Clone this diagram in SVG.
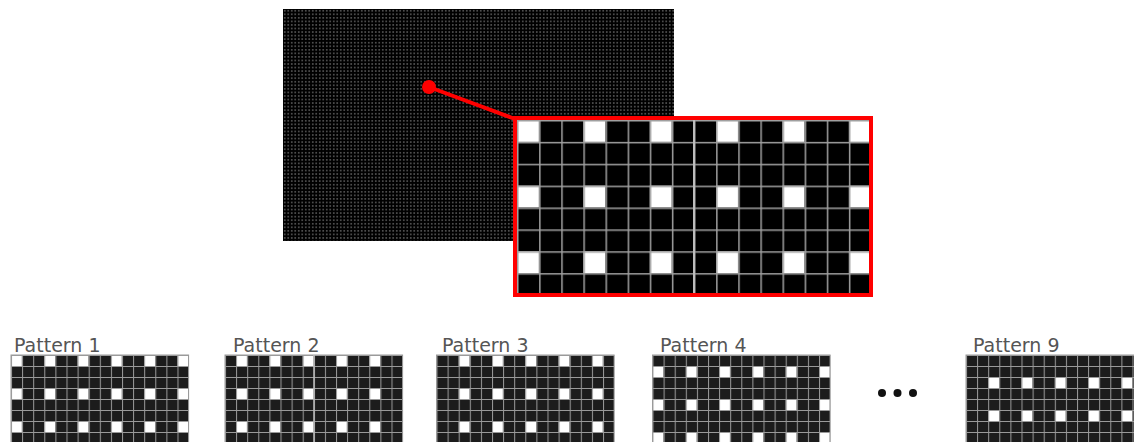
<svg xmlns="http://www.w3.org/2000/svg" width="1134" height="442" viewBox="0 0 1134 442">
<style>
.lbl{font-family:"DejaVu Sans","Liberation Sans",sans-serif;font-size:19px;fill:#555}
.cellbg{fill:#1c1c1c}
.red{stroke:#ff0000;fill:none}
</style>
<defs>
<pattern id="dots" patternUnits="userSpaceOnUse" x="283" y="9" width="3.5" height="3.55"><rect x="1.1" y="1.1" width="1.3" height="1.3" fill="#8a8a8a"/></pattern>
<pattern id="mw" patternUnits="userSpaceOnUse" x="517" y="120" width="66.375" height="65.625"><rect width="22.125" height="21.875" fill="#fff"/></pattern>
<pattern id="mg" patternUnits="userSpaceOnUse" x="517" y="120" width="22.125" height="21.875"><path d="M0.75 0V21.875M0 0.75H22.125" stroke="#a0a0a0" stroke-width="1.5" fill="none"/></pattern>
<pattern id="w1" patternUnits="userSpaceOnUse" x="11" y="355" width="33.3" height="33"><rect width="11.1" height="11" fill="#fff"/></pattern>
<pattern id="g1" patternUnits="userSpaceOnUse" x="11" y="355" width="11.1" height="11"><path d="M0.5 0V11M0 0.5H11.1" stroke="#9a9a9a" stroke-width="1" fill="none"/></pattern>
<pattern id="w2" patternUnits="userSpaceOnUse" x="236.1" y="355" width="33.3" height="33"><rect width="11.1" height="11" fill="#fff"/></pattern>
<pattern id="g2" patternUnits="userSpaceOnUse" x="225" y="355" width="11.1" height="11"><path d="M0.5 0V11M0 0.5H11.1" stroke="#9a9a9a" stroke-width="1" fill="none"/></pattern>
<pattern id="w3" patternUnits="userSpaceOnUse" x="458.7" y="355" width="33.3" height="33"><rect width="11.1" height="11" fill="#fff"/></pattern>
<pattern id="g3" patternUnits="userSpaceOnUse" x="436.5" y="355" width="11.1" height="11"><path d="M0.5 0V11M0 0.5H11.1" stroke="#9a9a9a" stroke-width="1" fill="none"/></pattern>
<pattern id="w4" patternUnits="userSpaceOnUse" x="652.5" y="366" width="33.3" height="33"><rect width="11.1" height="11" fill="#fff"/></pattern>
<pattern id="g4" patternUnits="userSpaceOnUse" x="652.5" y="355" width="11.1" height="11"><path d="M0.5 0V11M0 0.5H11.1" stroke="#9a9a9a" stroke-width="1" fill="none"/></pattern>
<pattern id="w9" patternUnits="userSpaceOnUse" x="988.2" y="377" width="33.3" height="33"><rect width="11.1" height="11" fill="#fff"/></pattern>
<pattern id="g9" patternUnits="userSpaceOnUse" x="966" y="355" width="11.1" height="11"><path d="M0.5 0V11M0 0.5H11.1" stroke="#9a9a9a" stroke-width="1" fill="none"/></pattern>
</defs>
<rect width="1134" height="442" fill="#fff"/>

<g id="fabric">
<rect x="283" y="9" width="391" height="232" fill="#000"/>
<rect x="283" y="9" width="391" height="232" fill="url(#dots)"/>
</g>

<g id="connectors">
<line class="red" x1="429" y1="87" x2="515" y2="119" stroke-width="4"/>
<circle cx="429" cy="87" r="7" fill="#ff0000"/>
</g>

<g id="zoom">
<rect x="517" y="120" width="354" height="175" fill="#000"/>
<rect x="517" y="120" width="354" height="175" fill="url(#mw)"/>
<rect x="517" y="120" width="354" height="175" fill="url(#mg)"/>
<line x1="694" y1="120" x2="694" y2="295" stroke="#bdbdbd" stroke-width="2"/>
<rect class="red" x="515" y="118" width="356" height="177" stroke-width="4"/>
</g>

<g id="pattern1">
<text class="lbl" x="14" y="352">Pattern 1</text>
<rect class="cellbg" x="11" y="355" width="177.6" height="99"/>
<rect x="11" y="355" width="177.6" height="99" fill="url(#w1)"/>
<rect x="11" y="355" width="177.6" height="99" fill="url(#g1)" stroke="#9a9a9a" stroke-width="1"/>
</g>

<g id="pattern2">
<text class="lbl" x="233" y="352">Pattern 2</text>
<rect class="cellbg" x="225" y="355" width="177.6" height="99"/>
<rect x="225" y="355" width="177.6" height="99" fill="url(#w2)"/>
<rect x="225" y="355" width="177.6" height="99" fill="url(#g2)" stroke="#9a9a9a" stroke-width="1"/>
<line x1="314" y1="355" x2="314" y2="442" stroke="#bdbdbd" stroke-width="1.5"/>
</g>

<g id="pattern3">
<text class="lbl" x="442" y="352">Pattern 3</text>
<rect class="cellbg" x="436.5" y="355" width="177.6" height="99"/>
<rect x="436.5" y="355" width="177.6" height="99" fill="url(#w3)"/>
<rect x="436.5" y="355" width="177.6" height="99" fill="url(#g3)" stroke="#9a9a9a" stroke-width="1"/>
</g>

<g id="pattern4">
<text class="lbl" x="660" y="352">Pattern 4</text>
<rect class="cellbg" x="652.5" y="355" width="177.6" height="99"/>
<rect x="652.5" y="355" width="177.6" height="99" fill="url(#w4)"/>
<rect x="652.5" y="355" width="177.6" height="99" fill="url(#g4)" stroke="#9a9a9a" stroke-width="1"/>
</g>

<g id="ellipsis">
<circle cx="882" cy="393" r="4" fill="#111"/>
<circle cx="897.5" cy="393" r="4" fill="#111"/>
<circle cx="913" cy="393" r="4" fill="#111"/>
</g>

<g id="pattern9">
<text class="lbl" x="973" y="352">Pattern 9</text>
<rect class="cellbg" x="966" y="355" width="177.6" height="99"/>
<rect x="966" y="355" width="177.6" height="99" fill="url(#w9)"/>
<rect x="966" y="355" width="177.6" height="99" fill="url(#g9)" stroke="#9a9a9a" stroke-width="1"/>
</g>
</svg>
